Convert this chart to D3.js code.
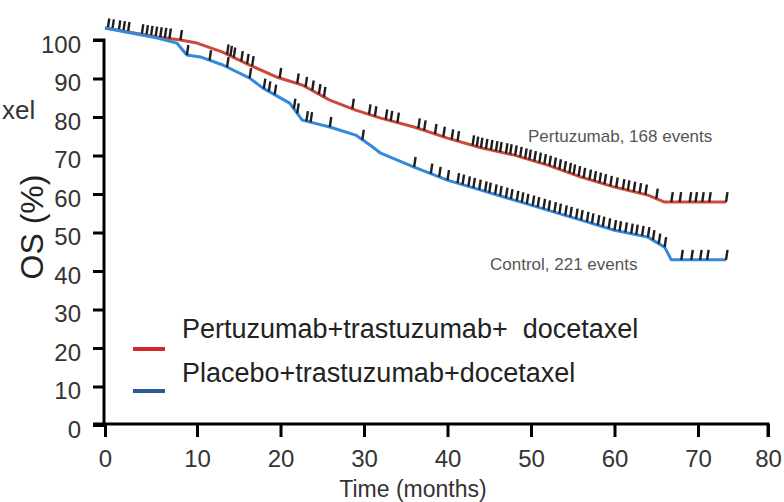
<!DOCTYPE html>
<html>
<head>
<meta charset="utf-8">
<script src="https://cdn.jsdelivr.net/npm/d3@7"></script>
<style>
  html, body { margin: 0; padding: 0; background: #fff; }
  svg { display: block; }
  text { font-family: "Liberation Sans", Arial, sans-serif; }
</style>
</head>
<body>
<svg id="chart" width="784" height="502"></svg>
<script>
// ---- data ----
const xTicks = [0, 10, 20, 30, 40, 50, 60, 70, 80];
const yTicks = [0, 10, 20, 30, 40, 50, 60, 70, 80, 90, 100];

const pertTime = [0, 5.7, 8.2, 10, 13, 16.3, 19.5, 22.6, 25.9, 29, 32, 36, 40, 44, 48, 52, 56, 60, 64, 66, 74];
const pertOS   = [103.1, 100.8, 100, 99.2, 96.9, 93.5, 90.4, 88.3, 84.4, 81.8, 79.7, 77.4, 74.5, 72, 70.1, 67.5, 64.4, 61.8, 59.7, 57.9, 57.9];

const ctrlTime = [0, 5.7, 7.8, 8.9, 10.4, 13.1, 16.3, 17.9, 21.1, 22.6, 25.9, 29, 30.8, 32, 36, 40, 44, 48, 52, 56, 60, 64, 66, 66.8, 74];
const ctrlOS   = [103.1, 100.5, 99.2, 96.1, 95.6, 93.5, 90.1, 87.5, 83.6, 79.2, 77.4, 75.3, 72.6, 70.6, 67, 63.6, 61, 58.4, 55.8, 53.2, 50.6, 48.8, 46.2, 42.9, 42.9];

const pertCensor = [0.3, 0.8, 1.5, 2, 2.5, 4, 4.5, 5, 5.5, 6, 6.5, 7, 8.2,
  13.6, 14, 14.4, 15.3, 16, 16.6, 19.9, 22, 23, 23.8, 24.6, 25.2, 28.6, 30.6, 31.3, 32.6,
  33.2, 34, 36.5, 37.2, 38.5, 39.5, 40.5, 41.2,
  43, 43.5, 44, 44.6, 45.2, 45.8, 46.3, 47, 47.5, 48.1, 48.7, 49.3, 49.8, 50.4, 51, 51.6,
  52.2, 52.8, 53.4, 54, 54.6, 55.1, 55.7, 56.3, 57, 57.6, 58.2, 58.8, 59.5, 60.2,
  61, 61.6, 62.3, 63, 63.7, 65, 66.8, 67.8, 69, 69.7, 70.6, 71.6, 74];

const ctrlCensor = [8.9, 11.5, 13.6, 16.3, 18, 18.6, 19.3, 21.6, 22, 23.1, 23.6, 25.9, 29.8,
  36, 38, 39, 40,
  41.2, 41.8, 42.5, 43.1, 43.8, 44.5, 45, 45.7, 46.3, 47, 47.6, 48.3, 48.9, 49.5, 50.2, 50.8,
  51.5, 52.1, 52.8, 53.4, 54.1, 54.7, 55.4, 56, 56.7, 57.3, 58, 58.6, 59.3, 60, 60.6, 61.3,
  62, 62.6, 63.3, 64, 64.6, 65.3, 66,
  68, 69.2, 70.3, 71.3, 74];

const legendLabels = ["Pertuzumab+trastuzumab+  docetaxel", "Placebo+trastuzumab+docetaxel"];
const annotations = ["Pertuzumab, 168 events", "Control, 221 events"];

// ---- chart ----
const svg = d3.select("#chart");

const x = d3.scaleLinear().domain([0, 10, 70, 80]).range([105, 197, 698, 768]);
const y = d3.scaleLinear().domain([0, 100]).range([425, 40]);

const series = [
  { time: pertTime, os: pertOS, censor: pertCensor, color: "#cc4a3c" },
  { time: ctrlTime, os: ctrlOS, censor: ctrlCensor, color: "#3389db" }
];

const line = d3.line().x(d => x(d[0])).y(d => y(d[1])).curve(d3.curveLinear);

series.forEach(s => {
  const pts = s.time.map((t, i) => [t, s.os[i]]);
  svg.append("path")
    .attr("d", line(pts))
    .attr("fill", "none")
    .attr("stroke", s.color)
    .attr("stroke-width", 3)
    .attr("stroke-linejoin", "round");
  const interp = d3.scaleLinear().domain(s.time).range(s.os);
  svg.append("g").selectAll("line")
    .data(s.censor)
    .join("line")
    .attr("x1", d => x(d))
    .attr("x2", d => x(d) + 1.5)
    .attr("y1", d => y(interp(d)))
    .attr("y2", d => y(interp(d)) - 10)
    .attr("stroke", "#1e1e1e")
    .attr("stroke-width", 2.4);
});

// axes
const yAxis = d3.axisLeft(y).tickValues(yTicks).tickSize(11).tickPadding(12);
const gy = svg.append("g").attr("transform", "translate(104,0)").call(yAxis);
gy.select(".domain").attr("stroke", "#000").attr("stroke-width", 3).attr("d", "M-11,40H0V425");
gy.selectAll(".tick line").attr("stroke", "#000").attr("stroke-width", 3);
gy.selectAll(".tick text").attr("font-size", 24).attr("fill", "#333").attr("dy", "0.5em")
  .style("font-family", "'Liberation Sans', Arial, sans-serif");

const xAxis = d3.axisBottom(x).tickValues(xTicks).tickSize(13).tickPadding(13);
const gx = svg.append("g").attr("transform", "translate(0,424)").call(xAxis);
gx.select(".domain").attr("stroke", "#000").attr("stroke-width", 3).attr("d", "M93,0H768V13");
gx.selectAll(".tick line").attr("stroke", "#000").attr("stroke-width", 3);
gx.selectAll(".tick text").attr("font-size", 24).attr("fill", "#333")
  .style("font-family", "'Liberation Sans', Arial, sans-serif");

// axis titles
svg.append("text")
  .attr("transform", "translate(43,227) rotate(-90)")
  .attr("text-anchor", "middle")
  .attr("font-size", 32)
  .attr("fill", "#222")
  .text("OS (%)");

svg.append("text")
  .attr("x", 413).attr("y", 497)
  .attr("text-anchor", "middle")
  .attr("font-size", 23)
  .attr("fill", "#333")
  .text("Time (months)");

// label fragment at the left edge
svg.append("text")
  .attr("x", 2).attr("y", 119)
  .attr("text-anchor", "start")
  .attr("font-size", 26)
  .attr("fill", "#333")
  .text("xel");

// legend
const legendColors = ["#d6262b", "#2d5a94"];
const legendY = [349, 391];
const textY = [338, 382];
legendLabels.forEach((lab, i) => {
  svg.append("line")
    .attr("x1", 133).attr("x2", 165)
    .attr("y1", legendY[i]).attr("y2", legendY[i])
    .attr("stroke", legendColors[i]).attr("stroke-width", 4);
  svg.append("text")
    .attr("x", 182).attr("y", textY[i])
    .attr("font-size", 27)
    .attr("fill", "#222")
    .style("white-space", "pre")
    .text(lab);
});

// annotations
svg.append("text").attr("x", 528).attr("y", 142).attr("font-size", 17).attr("fill", "#555").text(annotations[0]);
svg.append("text").attr("x", 490).attr("y", 270).attr("font-size", 17).attr("fill", "#555").text(annotations[1]);
</script>
</body>
</html>
